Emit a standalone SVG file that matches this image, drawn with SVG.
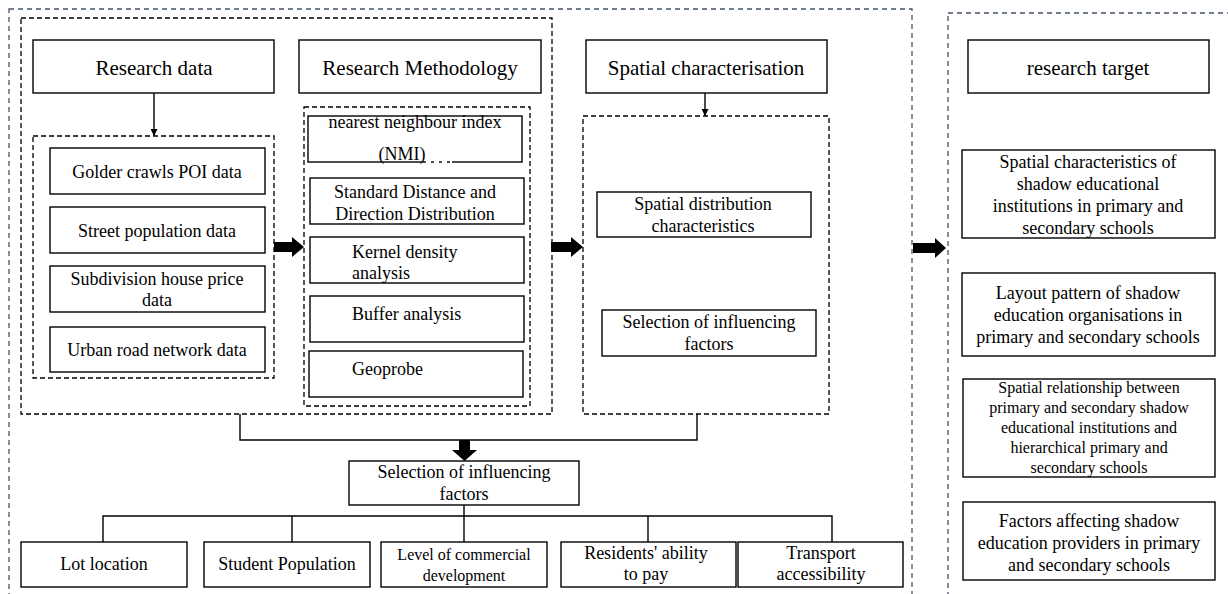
<svg xmlns="http://www.w3.org/2000/svg" width="1228" height="594" viewBox="0 0 1228 594">
<style>
.box{fill:#fff;stroke:#000;stroke-width:1.4}
.dash{fill:none;stroke:#000;stroke-width:1.3;stroke-dasharray:5 3}
.blue{fill:none;stroke:#44546A;stroke-width:1.3;stroke-dasharray:5 4}
.ln{fill:none;stroke:#000;stroke-width:1.4}
.thick{fill:#000;stroke:none}
text{font-family:"Liberation Serif","Times New Roman",serif;fill:#000;font-size:18px}
.c{text-anchor:middle}
.h{font-size:21px}
.s{font-size:16px}
</style>
<defs>
<marker id="ah" viewBox="0 0 10 10" refX="10" refY="5" markerWidth="7" markerHeight="7" markerUnits="userSpaceOnUse" orient="auto">
<path d="M0,0 L10,5 L0,10 z" fill="#000"/>
</marker>
</defs>
<rect width="1228" height="594" fill="#fff"/>

<g id="frames">
<rect class="blue" x="9" y="9" width="903" height="620"/>
<rect class="blue" x="948" y="13" width="320" height="620"/>
<rect class="dash" x="21" y="18" width="531" height="396"/>
<rect class="dash" x="33" y="136" width="241" height="242"/>
<rect class="dash" x="304" y="107" width="226" height="299"/>
<rect class="dash" x="583" y="116" width="246" height="298"/>
</g>

<g id="connectors">
<path class="ln" d="M154,93 V136" marker-end="url(#ah)"/>
<path class="ln" d="M705,93 V116" marker-end="url(#ah)"/>
<polygon class="thick" points="274,242 292,242 292,237 304,247 292,257 292,252 274,252"/>
<polygon class="thick" points="551,242 571,242 571,237 583,247 571,257 571,252 551,252"/>
<polygon class="thick" points="913,243 935,243 935,238 946,248 935,258 935,253 913,253"/>
<path class="ln" d="M240,414 V440 H697 V414"/>
<polygon class="thick" points="459,440 470,440 470,450 477,450 464.5,461 452,450 459,450"/>
<path class="ln" d="M464,505 V542"/>
<path class="ln" d="M103,542 V516 H832 V542"/>
<path class="ln" d="M292,516 V542"/>
<path class="ln" d="M648,516 V542"/>
</g>

<g id="n-research-data"><rect class="box" x="33" y="40" width="241" height="53"/><text class="c h" x="154" y="75">Research data</text></g>
<g id="n-research-methodology"><rect class="box" x="299" y="40" width="242" height="53"/><text class="c h" x="420" y="75">Research Methodology</text></g>
<g id="n-spatial-characterisation"><rect class="box" x="586" y="40" width="241" height="53"/><text class="c h" x="706" y="75">Spatial characterisation</text></g>
<g id="n-research-target"><rect class="box" x="968" y="40" width="241" height="53"/><text class="c h" x="1088" y="75">research target</text></g>

<g id="n-golder"><rect class="box" x="50" y="148" width="215" height="46"/><text class="c" x="157" y="178">Golder crawls POI data</text></g>
<g id="n-street"><rect class="box" x="50" y="207" width="215" height="46"/><text class="c" x="157" y="237">Street population data</text></g>
<g id="n-subdivision"><rect class="box" x="50" y="266" width="215" height="46"/><text class="c" x="157" y="285">Subdivision house price</text><text class="c" x="157" y="306">data</text></g>
<g id="n-urban"><rect class="box" x="50" y="327" width="215" height="45"/><text class="c" x="157" y="356">Urban road network data</text></g>

<g id="n-nmi"><rect class="box" x="308" y="116" width="214" height="46"/><text class="c" x="415" y="128">nearest neighbour index</text><text class="c" x="402" y="160">(NMI)</text><line x1="426" y1="162" x2="452" y2="162" stroke="#fff" stroke-width="2" stroke-dasharray="5 3"/></g>
<g id="n-standard"><rect class="box" x="310" y="178" width="214" height="46"/><text class="c" x="415" y="198">Standard Distance and</text><text class="c" x="415" y="220">Direction Distribution</text></g>
<g id="n-kernel"><rect class="box" x="310" y="237" width="214" height="46"/><text x="352" y="258">Kernel density</text><text x="352" y="279">analysis</text></g>
<g id="n-buffer"><rect class="box" x="310" y="296" width="214" height="46"/><text x="352" y="320">Buffer analysis</text></g>
<g id="n-geoprobe"><rect class="box" x="309" y="351" width="214" height="46"/><text x="352" y="375">Geoprobe</text></g>

<g id="n-spatial-distribution"><rect class="box" x="597" y="192" width="214" height="45"/><text class="c" x="703" y="210">Spatial distribution</text><text class="c" x="703" y="232">characteristics</text></g>
<g id="n-selection-spatial"><rect class="box" x="602" y="310" width="214" height="46"/><text class="c" x="709" y="328">Selection of influencing</text><text class="c" x="709" y="350">factors</text></g>

<g id="n-target-1"><rect class="box" x="962" y="150" width="253" height="88"/><text class="c" x="1088" y="168">Spatial characteristics of</text><text class="c" x="1088" y="190">shadow educational</text><text class="c" x="1088" y="212">institutions in primary and</text><text class="c" x="1088" y="234">secondary schools</text></g>
<g id="n-target-2"><rect class="box" x="962" y="273" width="253" height="83"/><text class="c" x="1088" y="299">Layout pattern of shadow</text><text class="c" x="1088" y="321">education organisations in</text><text class="c" x="1088" y="343">primary and secondary schools</text></g>
<g id="n-target-3"><rect class="box" x="963" y="379" width="252" height="98"/><text class="c s" x="1089" y="393">Spatial relationship between</text><text class="c s" x="1089" y="413">primary and secondary shadow</text><text class="c s" x="1089" y="433">educational institutions and</text><text class="c s" x="1089" y="453">hierarchical primary and</text><text class="c s" x="1089" y="473">secondary schools</text></g>
<g id="n-target-4"><rect class="box" x="963" y="502" width="252" height="78"/><text class="c" x="1089" y="527">Factors affecting shadow</text><text class="c" x="1089" y="549">education providers in primary</text><text class="c" x="1089" y="571">and secondary schools</text></g>

<g id="n-selection"><rect class="box" x="349" y="461" width="230" height="44"/><text class="c" x="464" y="478">Selection of influencing</text><text class="c" x="464" y="500">factors</text></g>
<g id="n-lot"><rect class="box" x="21" y="542" width="166" height="45"/><text class="c" x="104" y="570">Lot location</text></g>
<g id="n-student"><rect class="box" x="204" y="542" width="166" height="45"/><text class="c" x="287" y="570">Student Population</text></g>
<g id="n-level"><rect class="box" x="381" y="542" width="166" height="45"/><text class="c s" x="464" y="560">Level of commercial</text><text class="c s" x="464" y="581">development</text></g>
<g id="n-residents"><rect class="box" x="561" y="542" width="175" height="45"/><text class="c" x="646" y="559">Residents' ability</text><text class="c" x="646" y="580">to pay</text></g>
<g id="n-transport"><rect class="box" x="738" y="542" width="165" height="45"/><text class="c" x="821" y="559">Transport</text><text class="c" x="821" y="580">accessibility</text></g>
</svg>
